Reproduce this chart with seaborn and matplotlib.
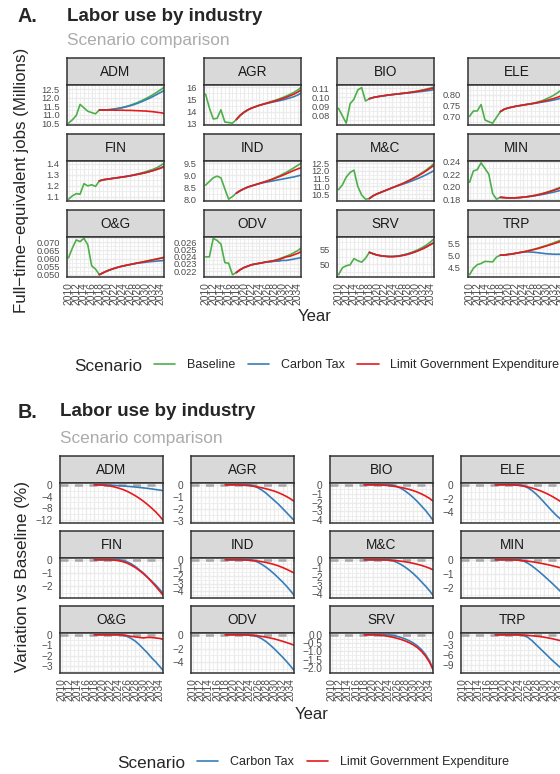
import numpy as np
import pandas as pd
import matplotlib
matplotlib.use("Agg")
import matplotlib.pyplot as plt
from matplotlib.lines import Line2D
from matplotlib.ticker import FixedLocator
import seaborn as sns

# ---------------------------------------------------------------- data
YEARS = list(range(2010, 2036))
SCEN_YEARS = list(range(2018, 2036))
INDUSTRIES = ["ADM", "AGR", "BIO", "ELE", "FIN", "IND",
              "M&C", "MIN", "O&G", "ODV", "SRV", "TRP"]

# panel A: jobs (millions), baseline 2010-2035
baseline = {
    "ADM": [10.50, 10.70, 10.95, 11.60, 11.40, 11.20, 11.12, 11.05, 11.27, 11.27, 11.28, 11.30, 11.33,
            11.37, 11.42, 11.48, 11.55, 11.63, 11.72, 11.82, 11.93, 12.05, 12.18, 12.32, 12.47, 12.63],
    "AGR": [15.45, 14.30, 13.40, 13.45, 14.15, 13.15, 13.10, 13.05, 13.35, 13.70, 13.95, 14.15, 14.30,
            14.42, 14.53, 14.63, 14.73, 14.83, 14.93, 15.04, 15.16, 15.29, 15.44, 15.60, 15.80, 16.05],
    "BIO": [0.088, 0.080, 0.072, 0.093, 0.098, 0.108, 0.1105, 0.096, 0.0985, 0.0998, 0.1006, 0.1013, 0.1019,
            0.1025, 0.1030, 0.1035, 0.1040, 0.1045, 0.1051, 0.1057, 0.1064, 0.1072, 0.1081, 0.1091, 0.1102, 0.1114],
    "ELE": [0.700, 0.725, 0.725, 0.755, 0.683, 0.675, 0.668, 0.695, 0.722, 0.733, 0.739, 0.743, 0.747,
            0.750, 0.753, 0.756, 0.759, 0.763, 0.768, 0.774, 0.782, 0.790, 0.800, 0.812, 0.825, 0.838],
    "FIN": [1.080, 1.110, 1.130, 1.125, 1.220, 1.200, 1.210, 1.195, 1.245, 1.255, 1.260, 1.265, 1.270,
            1.275, 1.280, 1.285, 1.292, 1.300, 1.308, 1.317, 1.327, 1.338, 1.350, 1.365, 1.385, 1.408],
    "IND": [8.60, 8.75, 8.90, 8.97, 8.90, 8.45, 8.02, 8.13, 8.27, 8.37, 8.45, 8.52, 8.57,
            8.62, 8.67, 8.72, 8.77, 8.83, 8.90, 8.97, 9.05, 9.13, 9.22, 9.32, 9.42, 9.52],
    "M&C": [10.80, 11.10, 11.60, 11.90, 12.05, 11.00, 10.45, 10.18, 10.22, 10.40, 10.52, 10.62, 10.72,
            10.82, 10.92, 11.02, 11.12, 11.23, 11.35, 11.48, 11.62, 11.77, 11.93, 12.10, 12.30, 12.52],
    "MIN": [0.207, 0.225, 0.227, 0.238, 0.229, 0.220, 0.189, 0.180, 0.183, 0.1825, 0.182, 0.182, 0.1822,
            0.1826, 0.1832, 0.1840, 0.1850, 0.1862, 0.1876, 0.1892, 0.1910, 0.1930, 0.1952, 0.1976, 0.2002, 0.2030],
    "O&G": [0.0605, 0.0665, 0.0715, 0.0705, 0.0725, 0.0685, 0.0555, 0.0535, 0.0500, 0.0512, 0.0523, 0.0532, 0.0540,
            0.0547, 0.0553, 0.0558, 0.0563, 0.0568, 0.0573, 0.0578, 0.0583, 0.0588, 0.0593, 0.0598, 0.0603, 0.0609],
    "ODV": [0.0240, 0.0240, 0.0266, 0.0263, 0.0258, 0.0232, 0.0231, 0.0215, 0.0218, 0.0222, 0.0225, 0.0227, 0.0229,
            0.0230, 0.0231, 0.0232, 0.0233, 0.0234, 0.0235, 0.0237, 0.0239, 0.0241, 0.0243, 0.0246, 0.0249, 0.0253],
    "SRV": [46.5, 48.8, 49.5, 49.8, 51.9, 51.2, 50.7, 52.0, 54.0, 53.5, 53.1, 52.85, 52.7,
            52.6, 52.6, 52.7, 52.9, 53.2, 53.55, 54.0, 54.5, 55.1, 55.8, 56.6, 57.6, 58.7],
    "TRP": [4.18, 4.45, 4.60, 4.65, 4.74, 4.73, 4.72, 4.92, 5.00, 5.01, 5.03, 5.05, 5.08,
            5.11, 5.14, 5.18, 5.22, 5.26, 5.31, 5.36, 5.41, 5.47, 5.53, 5.59, 5.65, 5.71],
}

# panel A: scenarios 2018-2035
carbon_tax = {
    "ADM": [11.27, 11.27, 11.28, 11.30, 11.33, 11.37, 11.41, 11.46, 11.52, 11.59, 11.67, 11.76, 11.86, 11.96, 12.07, 12.19, 12.31, 12.43],
    "AGR": [13.35, 13.70, 13.95, 14.15, 14.30, 14.42, 14.53, 14.62, 14.69, 14.76, 14.83, 14.89, 14.96, 15.05, 15.14, 15.24, 15.38, 15.57],
    "BIO": [0.0985, 0.0998, 0.1006, 0.1013, 0.1019, 0.1025, 0.1030, 0.1035, 0.1039, 0.1043, 0.1047, 0.1051, 0.1056, 0.1061, 0.1066, 0.1071, 0.1077, 0.1084],
    "ELE": [0.722, 0.733, 0.739, 0.743, 0.747, 0.750, 0.753, 0.756, 0.758, 0.761, 0.764, 0.767, 0.770, 0.773, 0.777, 0.781, 0.785, 0.790],
    "FIN": [1.245, 1.255, 1.260, 1.265, 1.270, 1.275, 1.280, 1.285, 1.291, 1.298, 1.305, 1.312, 1.320, 1.329, 1.339, 1.350, 1.363, 1.378],
    "IND": [8.27, 8.37, 8.45, 8.52, 8.57, 8.62, 8.66, 8.70, 8.73, 8.76, 8.79, 8.82, 8.85, 8.88, 8.91, 8.94, 8.98, 9.02],
    "M&C": [10.22, 10.40, 10.52, 10.62, 10.72, 10.82, 10.92, 11.01, 11.09, 11.17, 11.26, 11.35, 11.45, 11.55, 11.66, 11.78, 11.91, 12.05],
    "MIN": [0.183, 0.1825, 0.182, 0.182, 0.1822, 0.1826, 0.1832, 0.1838, 0.1846, 0.1855, 0.1865, 0.1876, 0.1888, 0.1901, 0.1915, 0.1930, 0.1946, 0.1963],
    "O&G": [0.0500, 0.0512, 0.0523, 0.0532, 0.0540, 0.0547, 0.0553, 0.0558, 0.0563, 0.0567, 0.0571, 0.0574, 0.0577, 0.0580, 0.0582, 0.0584, 0.0586, 0.0588],
    "ODV": [0.0218, 0.0222, 0.0225, 0.0227, 0.0229, 0.0230, 0.0231, 0.0232, 0.0233, 0.0233, 0.0234, 0.0234, 0.0235, 0.0235, 0.0236, 0.0237, 0.0238, 0.0239],
    "SRV": [54.0, 53.5, 53.1, 52.85, 52.7, 52.6, 52.6, 52.68, 52.85, 53.1, 53.4, 53.8, 54.25, 54.75, 55.3, 55.95, 56.7, 57.4],
    "TRP": [5.00, 5.01, 5.03, 5.05, 5.08, 5.11, 5.13, 5.14, 5.13, 5.12, 5.10, 5.08, 5.06, 5.05, 5.04, 5.04, 5.04, 5.05],
}
limit_gov = {
    "ADM": [11.27, 11.27, 11.27, 11.27, 11.26, 11.26, 11.26, 11.25, 11.25, 11.24, 11.23, 11.22, 11.21, 11.19, 11.17, 11.14, 11.11, 11.07],
    "AGR": [13.35, 13.70, 13.95, 14.15, 14.30, 14.41, 14.52, 14.61, 14.70, 14.79, 14.88, 14.98, 15.08, 15.19, 15.32, 15.45, 15.62, 15.83],
    "BIO": [0.0985, 0.0998, 0.1006, 0.1013, 0.1019, 0.1025, 0.1030, 0.1035, 0.1040, 0.1045, 0.1050, 0.1056, 0.1062, 0.1069, 0.1077, 0.1085, 0.1094, 0.1104],
    "ELE": [0.722, 0.733, 0.739, 0.743, 0.747, 0.750, 0.753, 0.756, 0.759, 0.762, 0.766, 0.770, 0.774, 0.779, 0.784, 0.790, 0.797, 0.805],
    "FIN": [1.245, 1.255, 1.260, 1.265, 1.270, 1.275, 1.280, 1.285, 1.291, 1.297, 1.304, 1.311, 1.319, 1.328, 1.338, 1.349, 1.361, 1.375],
    "IND": [8.27, 8.37, 8.45, 8.52, 8.57, 8.62, 8.67, 8.72, 8.77, 8.82, 8.88, 8.94, 9.00, 9.07, 9.14, 9.21, 9.27, 9.33],
    "M&C": [10.22, 10.40, 10.52, 10.62, 10.72, 10.82, 10.92, 11.02, 11.12, 11.22, 11.34, 11.46, 11.59, 11.73, 11.88, 12.04, 12.22, 12.40],
    "MIN": [0.183, 0.1825, 0.182, 0.182, 0.1822, 0.1826, 0.1832, 0.1840, 0.1849, 0.1860, 0.1873, 0.1888, 0.1905, 0.1923, 0.1943, 0.1965, 0.1988, 0.2013],
    "O&G": [0.0500, 0.0512, 0.0523, 0.0532, 0.0540, 0.0547, 0.0553, 0.0558, 0.0563, 0.0568, 0.0573, 0.0577, 0.0582, 0.0587, 0.0592, 0.0597, 0.0602, 0.0607],
    "ODV": [0.0218, 0.0222, 0.0225, 0.0227, 0.0229, 0.0230, 0.0231, 0.0232, 0.0233, 0.0234, 0.0235, 0.0236, 0.0238, 0.0240, 0.0241, 0.0243, 0.0245, 0.0248],
    "SRV": [54.0, 53.5, 53.1, 52.85, 52.68, 52.57, 52.55, 52.62, 52.78, 53.02, 53.33, 53.72, 54.18, 54.7, 55.27, 55.93, 56.67, 57.4],
    "TRP": [5.00, 5.01, 5.03, 5.05, 5.08, 5.11, 5.14, 5.17, 5.21, 5.25, 5.29, 5.34, 5.39, 5.44, 5.49, 5.54, 5.60, 5.66],
}

# panel B: variation vs baseline (%), 2018-2035
var_carbon = {
    "ADM": [0, 0, 0, -0.05, -0.1, -0.2, -0.3, -0.4, -0.5, -0.62, -0.75, -0.9, -1.05, -1.2, -1.4, -1.6, -1.8, -2.0],
    "AGR": [0, 0, 0, 0, 0, 0, 0, -0.1, -0.25, -0.45, -0.7, -1.0, -1.3, -1.6, -1.95, -2.3, -2.65, -3.0],
    "BIO": [0, 0, 0, 0, 0, 0, 0, -0.05, -0.2, -0.4, -0.7, -1.05, -1.45, -1.9, -2.4, -2.9, -3.5, -4.1],
    "ELE": [0, 0, 0, 0, 0, 0, 0, -0.15, -0.45, -0.85, -1.35, -1.95, -2.6, -3.25, -3.9, -4.5, -5.0, -5.3],
    "FIN": [0, 0, 0, 0, 0, 0, 0, -0.05, -0.15, -0.3, -0.5, -0.75, -1.0, -1.3, -1.6, -1.9, -2.25, -2.6],
    "IND": [0, 0, 0, 0, 0, 0, 0, -0.1, -0.3, -0.6, -0.95, -1.35, -1.8, -2.3, -2.8, -3.35, -3.95, -4.6],
    "M&C": [0, 0, 0, 0, 0, 0, 0, -0.1, -0.3, -0.55, -0.85, -1.2, -1.6, -2.05, -2.55, -3.05, -3.6, -4.2],
    "MIN": [0, 0, 0, 0, 0, 0, 0, -0.1, -0.25, -0.45, -0.68, -0.92, -1.18, -1.45, -1.72, -2.0, -2.3, -2.62],
    "O&G": [0, 0, 0, 0, 0, 0, 0, -0.05, -0.15, -0.35, -0.6, -0.95, -1.35, -1.75, -2.2, -2.6, -3.05, -3.5],
    "ODV": [0, 0, 0, 0, 0, 0, 0, -0.1, -0.3, -0.6, -1.0, -1.5, -2.05, -2.65, -3.25, -3.9, -4.6, -5.3],
    "SRV": [0, 0, 0, 0, 0, 0, -0.01, -0.04, -0.09, -0.16, -0.25, -0.36, -0.5, -0.67, -0.9, -1.2, -1.6, -2.2],
    "TRP": [0, 0, 0, 0, 0, 0, 0, -0.2, -0.8, -1.8, -3.0, -4.2, -5.4, -6.6, -7.8, -8.9, -10.0, -11.0],
}
var_limit = {
    "ADM": [0, -0.02, -0.1, -0.25, -0.45, -0.75, -1.15, -1.6, -2.2, -2.9, -3.7, -4.6, -5.6, -6.7, -7.9, -9.2, -10.7, -12.4],
    "AGR": [0, 0, 0, 0, -0.02, -0.05, -0.08, -0.12, -0.18, -0.25, -0.33, -0.42, -0.52, -0.65, -0.8, -0.97, -1.17, -1.4],
    "BIO": [0, 0, 0, 0, -0.02, -0.05, -0.1, -0.15, -0.22, -0.3, -0.4, -0.52, -0.66, -0.83, -1.03, -1.27, -1.55, -1.9],
    "ELE": [0, 0, 0, 0, -0.02, -0.05, -0.1, -0.2, -0.32, -0.47, -0.65, -0.87, -1.12, -1.4, -1.72, -2.07, -2.45, -2.85],
    "FIN": [0, 0, 0, 0, -0.01, -0.03, -0.07, -0.14, -0.25, -0.4, -0.58, -0.8, -1.05, -1.33, -1.65, -2.0, -2.37, -2.75],
    "IND": [0, 0, 0, 0, -0.01, -0.03, -0.06, -0.1, -0.16, -0.24, -0.34, -0.46, -0.6, -0.77, -0.97, -1.2, -1.45, -1.72],
    "M&C": [0, 0, 0, 0, -0.01, -0.02, -0.04, -0.07, -0.11, -0.16, -0.23, -0.31, -0.41, -0.52, -0.65, -0.8, -0.98, -1.2],
    "MIN": [0, 0, 0, 0, -0.01, -0.02, -0.04, -0.07, -0.1, -0.14, -0.19, -0.24, -0.3, -0.36, -0.43, -0.5, -0.58, -0.66],
    "O&G": [0, 0, 0, 0, 0, 0, 0, -0.02, -0.08, -0.15, -0.2, -0.25, -0.3, -0.25, -0.26, -0.3, -0.35, -0.45],
    "ODV": [0, 0, 0, 0, -0.01, -0.03, -0.06, -0.1, -0.16, -0.24, -0.34, -0.46, -0.6, -0.76, -0.94, -1.13, -1.33, -1.55],
    "SRV": [0, 0, 0, -0.01, -0.03, -0.06, -0.1, -0.15, -0.21, -0.28, -0.37, -0.48, -0.61, -0.78, -1.0, -1.3, -1.68, -2.2],
    "TRP": [0, 0, 0, 0, 0, -0.02, -0.05, -0.1, -0.18, -0.28, -0.4, -0.55, -0.73, -0.95, -1.2, -1.48, -1.8, -2.15],
}

ticks_a = {
    "ADM": [10.5, 11.0, 11.5, 12.0, 12.5], "AGR": [13, 14, 15, 16],
    "BIO": [0.08, 0.09, 0.10, 0.11], "ELE": [0.70, 0.75, 0.80],
    "FIN": [1.1, 1.2, 1.3, 1.4], "IND": [8.0, 8.5, 9.0, 9.5],
    "M&C": [10.5, 11.0, 11.5, 12.0, 12.5], "MIN": [0.18, 0.20, 0.22, 0.24],
    "O&G": [0.050, 0.055, 0.060, 0.065, 0.070], "ODV": [0.022, 0.023, 0.024, 0.025, 0.026],
    "SRV": [50, 55], "TRP": [4.5, 5.0, 5.5],
}
ticks_b = {
    "ADM": [0, -4, -8, -12], "AGR": [0, -1, -2, -3], "BIO": [0, -1, -2, -3, -4],
    "ELE": [0, -2, -4], "FIN": [0, -1, -2], "IND": [0, -1, -2, -3, -4],
    "M&C": [0, -1, -2, -3, -4], "MIN": [0, -1, -2], "O&G": [0, -1, -2, -3],
    "ODV": [0, -2, -4], "SRV": [0, -0.5, -1.0, -1.5, -2.0], "TRP": [0, -3, -6, -9],
}

COLORS = {"Baseline": "#4DAF4A", "Carbon Tax": "#377EB8",
          "Limit Government Expenditure": "#E41A1C"}

# ---------------------------------------------------------------- long tables
rows_a, rows_b = [], []
for ind in INDUSTRIES:
    for yr, v in zip(YEARS, baseline[ind]):
        rows_a.append((ind, yr, "Baseline", v))
    for yr, v in zip(SCEN_YEARS, carbon_tax[ind]):
        rows_a.append((ind, yr, "Carbon Tax", v))
    for yr, v in zip(SCEN_YEARS, limit_gov[ind]):
        rows_a.append((ind, yr, "Limit Government Expenditure", v))
    for yr, v in zip(SCEN_YEARS, var_carbon[ind]):
        rows_b.append((ind, yr, "Carbon Tax", v))
    for yr, v in zip(SCEN_YEARS, var_limit[ind]):
        rows_b.append((ind, yr, "Limit Government Expenditure", v))
df_a = pd.DataFrame(rows_a, columns=["industry", "year", "scenario", "value"])
df_b = pd.DataFrame(rows_b, columns=["industry", "year", "scenario", "value"])

# ---------------------------------------------------------------- figure
sns.set_style("white")
plt.rcParams["font.family"] = ["Liberation Sans", "DejaVu Sans"]

W, H = 560, 774
fig = plt.figure(figsize=(W / 100, H / 100), dpi=100)


def box(left, top, width, height):
    return [left / W, 1 - (top + height) / H, width / W, height / H]


def fmt_tick(t, ticks):
    d = 0
    while any(abs(round(x, d) - x) > 1e-9 for x in ticks):
        d += 1
    return f"{t:.{d}f}".replace("-", "\u2212")


def draw_facet(df, ind, left, top, width, ticks, ysize, bottom_row, zero_line):
    strip_h, panel_h = 27, 40
    sax = fig.add_axes(box(left, top, width, strip_h))
    sax.set_facecolor("#D9D9D9")
    sax.set_xticks([])
    sax.set_yticks([])
    for s in sax.spines.values():
        s.set_color("#333333")
        s.set_linewidth(1.1)
    sax.text(0.5, 0.47, ind, transform=sax.transAxes, ha="center", va="center",
             fontsize=9.8, color="#1A1A1A")

    ax = fig.add_axes(box(left, top + strip_h, width, panel_h))
    ax.set_facecolor("white")
    sub = df[df["industry"] == ind]
    hue_order = [h for h in COLORS if h in sub["scenario"].unique()]

    if zero_line:
        ax.axhline(0, color="#A6A6A6", lw=1.8, ls=(0, (3.2, 2.6)), zorder=1.5)
    sns.lineplot(data=sub, x="year", y="value", hue="scenario", hue_order=hue_order,
                 palette=COLORS, legend=False, linewidth=1.2, ax=ax, zorder=2)

    lo, hi = sub["value"].min(), sub["value"].max()
    if zero_line:
        lo, hi = min(lo, 0), max(hi, 0)
    pad = (hi - lo) * 0.05
    ax.set_ylim(lo - pad, hi + pad)
    ax.set_xlim(2009.6, 2034.8)

    ax.set_xticks(list(range(2010, 2035, 2)))
    ax.xaxis.set_minor_locator(FixedLocator(list(range(2011, 2036, 2))))
    st = sorted(ticks)
    step = st[1] - st[0]
    ax.set_yticks(ticks)
    ax.set_yticklabels([fmt_tick(t, ticks) for t in ticks])
    ax.yaxis.set_minor_locator(FixedLocator(list(np.arange(st[0] - step / 2, st[-1] + step, step))))

    ax.set_axisbelow(True)
    ax.grid(which="major", color="#EBEBEB", lw=1.0)
    ax.grid(which="minor", color="#EBEBEB", lw=0.6)
    for s in ax.spines.values():
        s.set_color("#333333")
        s.set_linewidth(1.1)
    ax.tick_params(which="minor", length=0)
    ax.tick_params(axis="y", which="major", length=2.8, width=0.8, color="#333333",
                   labelsize=ysize, labelcolor="#4D4D4D", pad=2.5)
    if bottom_row:
        ax.tick_params(axis="x", which="major", length=2.8, width=0.8, color="#333333",
                       labelsize=7.4, labelcolor="#4D4D4D", labelrotation=90, pad=1)
    else:
        ax.tick_params(axis="x", which="major", length=0, labelbottom=False)
    ax.set_xlabel("")
    ax.set_ylabel("")
    return ax


def draw_block(df, col_lefts, row_tops, width, ticks, ysize, zero_line):
    for i, ind in enumerate(INDUSTRIES):
        r, c = divmod(i, 4)
        draw_facet(df, ind, col_lefts[c], row_tops[r], width, ticks[ind], ysize,
                   r == 2, zero_line)


draw_block(df_a, [67, 204, 337, 468], [58, 134, 209.5], 97, ticks_a, 6.7, False)
draw_block(df_b, [60, 191, 330, 461], [456, 531, 606], 103, ticks_b, 7.3, True)

# ---------------------------------------------------------------- text
def px_text(x, y, s, **kw):
    fig.text(x / W, 1 - y / H, s, **kw)


px_text(18, 22, "A.", fontsize=14.2, fontweight="bold", va="baseline")
px_text(67, 21, "Labor use by industry", fontsize=13.5, fontweight="bold", va="baseline")
px_text(67, 45.5, "Scenario comparison", fontsize=12.4, color="#ABABAB", va="baseline")
px_text(18, 418, "B.", fontsize=14.2, fontweight="bold", va="baseline")
px_text(60, 416.5, "Labor use by industry", fontsize=13.5, fontweight="bold", va="baseline")
px_text(60, 443, "Scenario comparison", fontsize=12.4, color="#ABABAB", va="baseline")

px_text(22, 180, "Full\u2212time\u2212equivalent jobs (Millions)", rotation=90,
        ha="center", va="center", fontsize=12.2)
px_text(23, 577, "Variation vs Baseline (%)", rotation=90,
        ha="center", va="center", fontsize=12.3)
px_text(315, 321, "Year", ha="center", va="baseline", fontsize=12)
px_text(312, 719, "Year", ha="center", va="baseline", fontsize=12)

# legends
px_text(74, 371, "Scenario", fontsize=12.3, va="baseline")
handles_a = [Line2D([], [], color=COLORS[k], lw=1.2) for k in COLORS]
fig.legend(handles_a, list(COLORS), ncol=3, frameon=False, fontsize=9,
           loc="center left", bbox_to_anchor=(154 / W, 1 - 365 / H),
           handlelength=1.7, handletextpad=0.95, columnspacing=1.0,
           borderpad=0, borderaxespad=0)

px_text(117, 767.5, "Scenario", fontsize=12.3, va="baseline")
keys_b = ["Carbon Tax", "Limit Government Expenditure"]
handles_b = [Line2D([], [], color=COLORS[k], lw=1.2) for k in keys_b]
fig.legend(handles_b, keys_b, ncol=2, frameon=False, fontsize=9,
           loc="center left", bbox_to_anchor=(197 / W, 1 - 762 / H),
           handlelength=1.7, handletextpad=0.95, columnspacing=1.0,
           borderpad=0, borderaxespad=0)

fig.savefig("out.png", dpi=100)
